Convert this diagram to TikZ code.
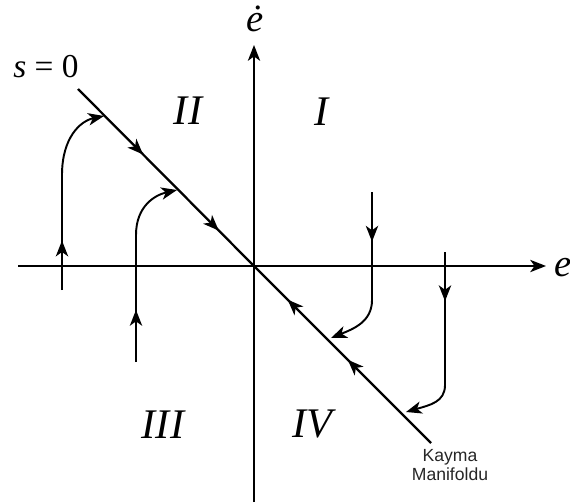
\documentclass[tikz,border=0pt]{standalone}
\usepackage{fontspec}
\setmainfont{Liberation Serif}
\newfontfamily\kaymafont{Liberation Sans}
\usepackage{tikz}
\usetikzlibrary{arrows.meta,decorations.markings}

\begin{document}
\begin{tikzpicture}[
    x=0.02cm,y=-0.02cm,
    axis/.style={line width=1.1pt,-{Stealth[length=9pt,width=7pt,inset=2.5pt]}},
    manifold/.style={line width=1.3pt},
    traj/.style={line width=1.1pt},
    tip/.style={-{Stealth[length=9pt,width=7pt,inset=2.5pt]}},
    flow/.style={postaction={decorate},decoration={markings,
                 mark=at position #1 with {\arrow{Stealth[length=9pt,width=7pt,inset=2.5pt]}}}},
    flows/.style 2 args={postaction={decorate},decoration={markings,
                 mark=at position #1 with {\arrow{Stealth[length=9pt,width=7pt,inset=2.5pt]}},
                 mark=at position #2 with {\arrow{Stealth[length=9pt,width=7pt,inset=2.5pt]}}}},
    region/.style={font=\fontsize{24}{28}\selectfont\itshape},
    lbl/.style={font=\fontsize{19}{22}\selectfont},
    axlbl/.style={font=\fontsize{22}{24}\selectfont\itshape}
  ]
    \useasboundingbox (0,0) rectangle (570,503);

    % axes
    \coordinate (O)    at (254,266);
    \coordinate (xL)   at (18,266);
    \coordinate (xR)   at (546,266);
    \coordinate (yB)   at (254,502);
    \coordinate (yT)   at (254,45);
    \draw[axis] (xL) -- (xR);
    \draw[axis] (yB) -- (yT);
    \node[axlbl] (elbl)  at (563,268) {e};
    \node[axlbl] (edlbl) at (255,19)  {ė};

    % sliding manifold
    \coordinate (mTop) at (78,89);
    \coordinate (mBot) at (431,443);
    \draw[manifold,flows={0.37}{0.80}] (mTop) -- (O);
    \draw[manifold,flows={0.47}{0.81}] (mBot) -- (O);
    \node[lbl] (slbl) at (46,67) {\textit{s} = 0};
    \node[font=\kaymafont\fontsize{10}{11}\selectfont,align=center,text=black!85] (kayma)
        at (450,465) {Kayma\\Manifoldu};

    % trajectories
    \coordinate (a0) at (62,290);  \coordinate (a1) at (62,175);  \coordinate (a2) at (104,116);
    \coordinate (b0) at (136,362); \coordinate (b1) at (136,235); \coordinate (b2) at (177,190);
    \coordinate (c0) at (372,192); \coordinate (c1) at (372,300); \coordinate (c2) at (331,338);
    \coordinate (d0) at (445,252); \coordinate (d1) at (445,385); \coordinate (d2) at (406,412);

    \draw[traj,flow=0.43] (a0) -- (a1);
    \draw[traj,tip] (a1) .. controls (62,138) and (80,121) .. (a2);
    \draw[traj,flow=0.41] (b0) -- (b1);
    \draw[traj,tip] (b1) .. controls (136,206) and (155,195) .. (b2);
    \draw[traj,flow=0.46] (c0) -- (c1);
    \draw[traj,tip] (c1) .. controls (372,322) and (353,329) .. (c2);
    \draw[traj,flow=0.37] (d0) -- (d1);
    \draw[traj,tip] (d1) .. controls (445,402) and (430,405) .. (d2);

    % regions
    \node[region] (rI)   at (322,112) {I};
    \node[region] (rII)  at (188,111) {II};
    \node[region] (rIII) at (163,425) {III};
    \node[region] (rIV)  at (312,424) {IV};
\end{tikzpicture}
\end{document}
